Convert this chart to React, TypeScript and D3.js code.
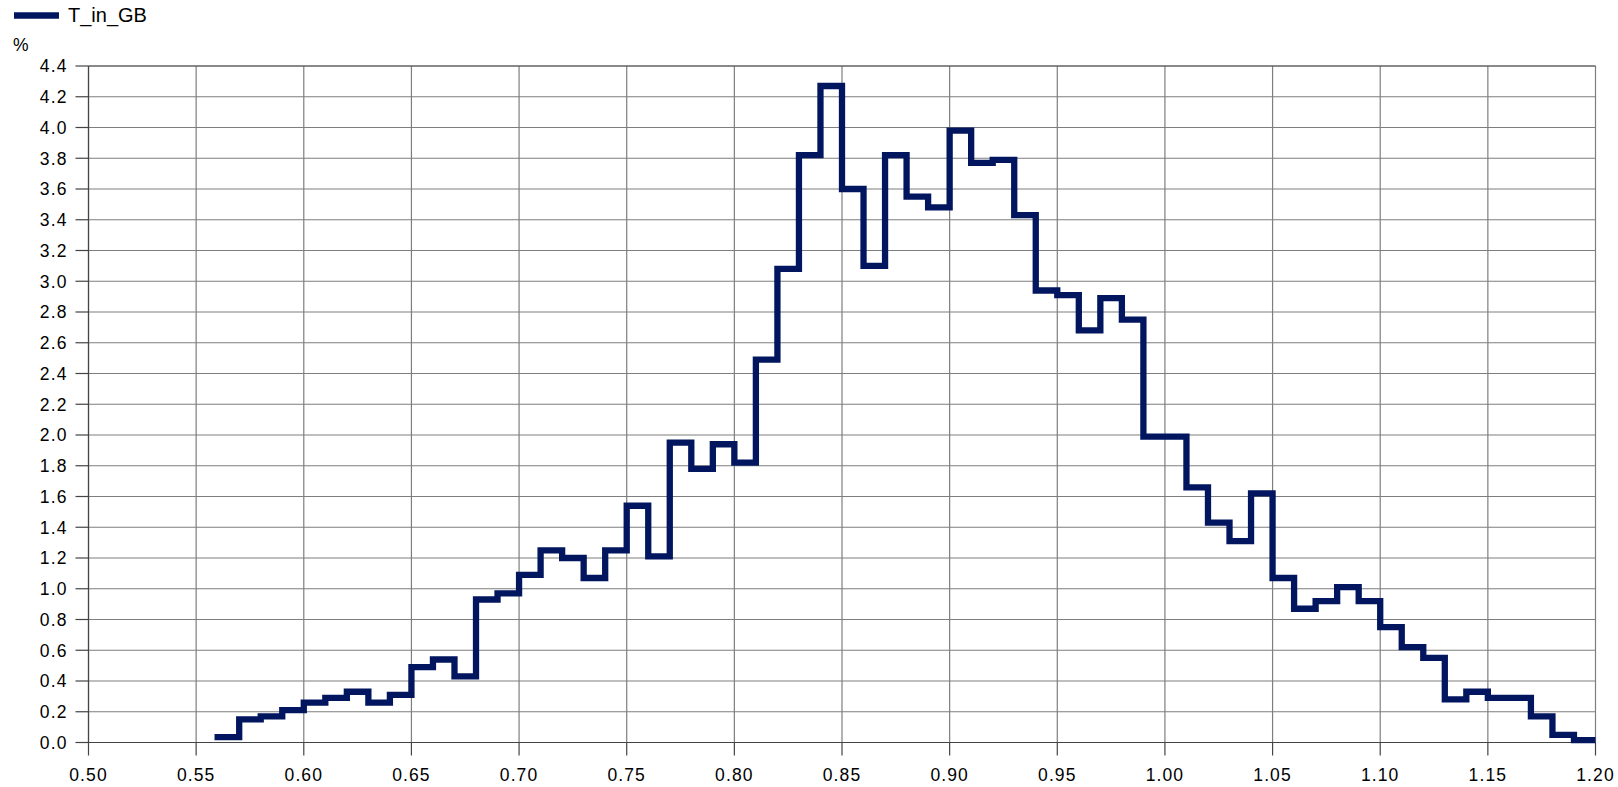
import React from "react";
import * as d3 from "d3";

// Histogram of T_in_GB: bin start (width 0.01) and share of samples in %
const binStarts = [
  0.56, 0.57, 0.58, 0.59, 0.6, 0.61, 0.62, 0.63, 0.64, 0.65, 0.66, 0.67, 0.68, 0.69, 0.7,
  0.71, 0.72, 0.73, 0.74, 0.75, 0.76, 0.77, 0.78, 0.79, 0.8, 0.81, 0.82, 0.83, 0.84, 0.85,
  0.86, 0.87, 0.88, 0.89, 0.9, 0.91, 0.92, 0.93, 0.94, 0.95, 0.96, 0.97, 0.98, 0.99, 1.0,
  1.01, 1.02, 1.03, 1.04, 1.05, 1.06, 1.07, 1.08, 1.09, 1.1, 1.11, 1.12, 1.13, 1.14, 1.15,
  1.16, 1.17, 1.18, 1.19,
];
const binEnd = 1.2;
const percent = [
  0.035, 0.15, 0.17, 0.21, 0.26, 0.29, 0.33, 0.26, 0.31, 0.49, 0.54, 0.43, 0.93, 0.97, 1.09,
  1.25, 1.2, 1.07, 1.25, 1.54, 1.21, 1.95, 1.78, 1.94, 1.82, 2.49, 3.08, 3.82, 4.27, 3.6,
  3.1, 3.82, 3.55, 3.48, 3.98, 3.77, 3.79, 3.43, 2.94, 2.91, 2.68, 2.89, 2.75, 1.99, 1.99,
  1.66, 1.43, 1.31, 1.62, 1.07, 0.87, 0.92, 1.01, 0.92, 0.75, 0.62, 0.55, 0.28, 0.33, 0.29,
  0.29, 0.17, 0.05, 0.015,
];
const xTicks = [0.5, 0.55, 0.6, 0.65, 0.7, 0.75, 0.8, 0.85, 0.9, 0.95, 1.0, 1.05, 1.1, 1.15, 1.2];
const yTicks = [0, 0.2, 0.4, 0.6, 0.8, 1.0, 1.2, 1.4, 1.6, 1.8, 2.0, 2.2, 2.4, 2.6, 2.8, 3.0, 3.2, 3.4, 3.6, 3.8, 4.0, 4.2, 4.4];
const seriesName = "T_in_GB";
const unitLabel = "%";

const W = 1618;
const H = 787;
const left = 88.5;
const right = 1595.5;
const top = 66;
const bottom = 742.5;
const lineColor = "#02165f";
const font = "'Liberation Sans', Arial, Helvetica, sans-serif";

export default function App() {
  const x = d3.scaleLinear().domain([0.5, 1.2]).range([left, right]);
  const y = d3.scaleLinear().domain([0, 4.4]).range([bottom, top]);

  const pts: [number, number][] = binStarts.map((b, i) => [b, percent[i]]);
  pts.push([binEnd, percent[percent.length - 1]]);
  const path = d3
    .line<[number, number]>()
    .x((d) => x(d[0]))
    .y((d) => y(d[1]))
    .curve(d3.curveStepAfter)(pts) as string;

  const fmtX = d3.format(".2f");
  const fmtY = d3.format(".1f");

  return (
    <svg
      width={W}
      height={H}
      style={{ position: "absolute", left: 0, top: 0, background: "#fff" }}
      fontFamily={font}
    >
      <defs>
        <clipPath id="plotClip">
          <rect x={0} y={top - 10} width={right} height={bottom - top + 20} />
        </clipPath>
      </defs>
      {/* grid */}
      {yTicks.map((t) => (
        <line key={"gy" + t} x1={left} x2={right} y1={y(t)} y2={y(t)} stroke="#7e7e7e" strokeWidth={1.2} />
      ))}
      {xTicks.map((t) => (
        <line key={"gx" + t} x1={x(t)} x2={x(t)} y1={top} y2={bottom} stroke="#7e7e7e" strokeWidth={1.2} />
      ))}
      {/* frame lines */}
      <line x1={left} x2={right} y1={top} y2={top} stroke="#555" strokeWidth={1.2} />
      <line x1={left} x2={left} y1={top} y2={bottom} stroke="#444" strokeWidth={1.2} />
      <line x1={left} x2={right} y1={bottom} y2={bottom} stroke="#444" strokeWidth={1.2} />
      {/* ticks */}
      {yTicks.map((t) => (
        <g key={"ty" + t}>
          <line x1={left - 13} x2={left} y1={y(t)} y2={y(t)} stroke="#444" strokeWidth={1.2} />
          <text x={left - 21} y={y(t)} dy="0.36em" textAnchor="end" fontSize={17.5} letterSpacing={1.1} fill="#000">
            {fmtY(t)}
          </text>
        </g>
      ))}
      {xTicks.map((t) => (
        <g key={"tx" + t}>
          <line x1={x(t)} x2={x(t)} y1={bottom} y2={bottom + 13} stroke="#444" strokeWidth={1.2} />
          <text x={x(t)} y={781} textAnchor="middle" fontSize={17.5} letterSpacing={1.1} fill="#000">
            {fmtX(t)}
          </text>
        </g>
      ))}
      {/* series */}
      <path
        d={path}
        fill="none"
        stroke={lineColor}
        strokeWidth={6.3}
        strokeLinecap="square"
        strokeLinejoin="miter"
        clipPath="url(#plotClip)"
      />
      {/* legend */}
      <line x1={14} x2={59} y1={15.5} y2={15.5} stroke={lineColor} strokeWidth={6.5} />
      <text x={68} y={22} fontSize={20} fill="#000">
        {seriesName}
      </text>
      <text x={13} y={51} fontSize={17.5} fill="#000">
        {unitLabel}
      </text>
    </svg>
  );
}
